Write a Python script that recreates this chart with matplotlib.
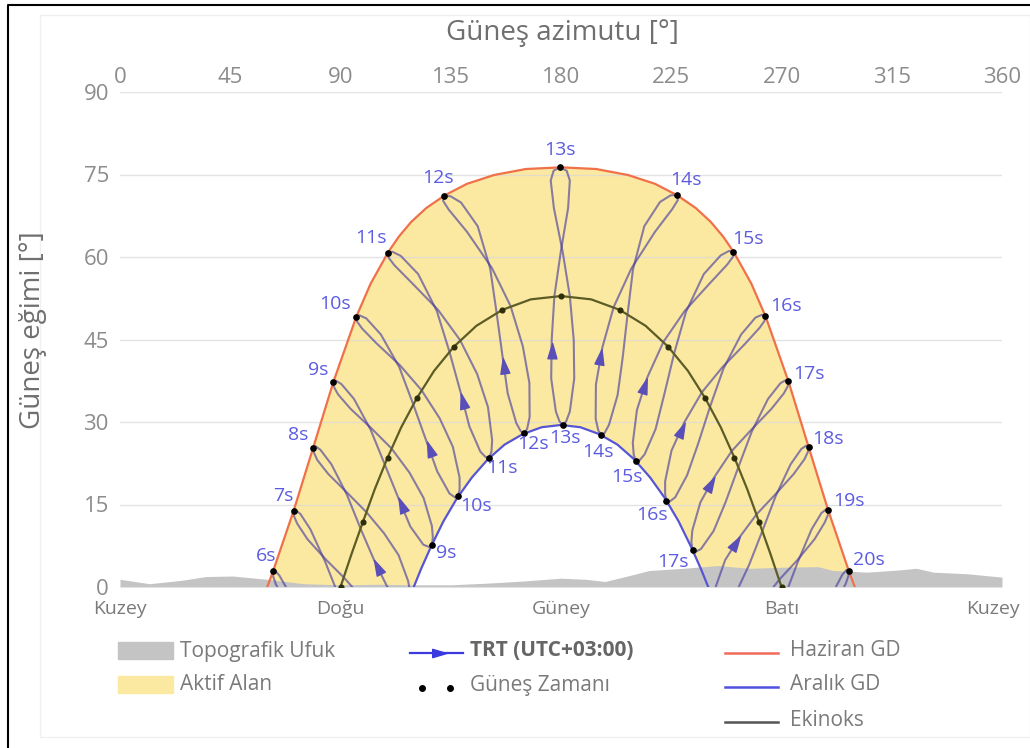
import numpy as np
import matplotlib
matplotlib.use('Agg')
import matplotlib.pyplot as plt
from matplotlib.lines import Line2D
from matplotlib.patches import Rectangle
from matplotlib.markers import MarkerStyle
from matplotlib.path import Path
from matplotlib.transforms import Affine2D

plt.rcParams['font.family'] = ['Open Sans', 'DejaVu Sans']

# --- data (azimuth / elevation in degrees) ---
# June solstice path
june_az = [60.1, 62.5, 70.9, 78.9, 87.1, 96.5, 102.3, 109.5, 113.8, 118.9, 125.0, 132.5, 141.6, 152.6,
           165.7, 180.0, 194.3, 207.4, 218.4, 227.5, 235.0, 241.1, 246.2, 250.5, 257.7, 263.5,
           272.9, 281.1, 289.1, 297.5, 299.9]
june_el = [0.0, 2.9, 13.9, 25.4, 37.3, 49.2, 55.15, 60.9, 63.7, 66.4, 68.9, 71.2, 73.3, 74.9,
           76.0, 76.3, 76.0, 74.9, 73.3, 71.2, 68.9, 66.4, 63.7, 60.9, 55.15, 49.2,
           37.3, 25.4, 13.9, 2.9, 0.0]

# December solstice path
dec_az = [119.9, 122.9, 126.8, 131.95, 137.5, 143.6, 150.1, 157.0, 164.4, 172.1, 180.0,
          187.9, 195.6, 203.0, 209.9, 216.4, 222.5, 228.05, 233.2, 237.1, 240.1]
dec_el = [0.0, 3.3, 7.2, 11.9, 16.1, 19.9, 23.2, 25.9, 27.8, 29.05, 29.46,
          29.05, 27.8, 25.9, 23.2, 19.9, 16.1, 11.9, 7.2, 3.3, 0.0]

# equinox path (every second point is a solar-time hour)
equ_az = [90.0, 94.5, 99.2, 104.0, 109.2, 114.8, 121.1, 128.2, 136.3, 145.5, 156.1, 167.7, 180.0,
          192.3, 203.9, 214.5, 223.7, 231.8, 238.9, 245.2, 250.8, 256.0, 260.8, 265.5, 270.0]
equ_el = [0.0, 6.0, 11.9, 17.8, 23.5, 29.05, 34.3, 39.3, 43.7, 47.5, 50.4, 52.3, 52.9,
          52.3, 50.4, 47.5, 43.7, 39.3, 34.3, 29.05, 23.5, 17.8, 11.9, 6.0, 0.0]

# topographic horizon
hor_az = [0, 6, 12, 25, 35, 46, 60, 75, 90, 105, 120, 135, 150, 165, 180, 190, 198, 209, 216,
          230, 244, 257, 271, 285, 291, 305, 318, 325, 332, 346, 360]
hor_el = [1.4, 1.0, 0.6, 1.2, 1.9, 2.0, 1.4, 0.6, 0.4, 0.5, 0.4, 0.4, 0.7, 1.1, 1.6, 1.4, 1.0, 2.2, 3.0,
          3.4, 3.9, 3.4, 3.6, 3.7, 3.0, 2.7, 3.1, 3.4, 2.7, 2.4, 1.8]

# analemmas (clock hours TRT), June -> December branch and December -> June branch
hours = list(range(6, 21))
down_az = [
    [62.45, 62.5, 63.65, 67.6],
    [70.85, 71.0, 72.3, 76.5, 83.8, 91.3, 98.6],
    [78.85, 79.1, 80.5, 85.1, 92.8, 100.6, 107.8, 113.7, 117.6, 118.5],
    [87.05, 87.3, 88.95, 94.1, 102.5, 110.8, 118.15, 123.9, 127.3, 127.7, 127.3],
    [96.4, 96.7, 98.8, 104.7, 114.3, 123.05, 130.5, 135.85, 138.6, 138.6, 138.0],
    [109.4, 109.6, 112.0, 119.1, 129.8, 138.8, 145.8, 150.2, 151.9, 151.6, 150.7],
    [132.3, 131.9, 134.2, 141.6, 151.8, 159.4, 164.4, 167.1, 167.2, 166.2, 165.1],
    [179.6, 177.0, 175.8, 177.1, 180.7, 183.6, 185.2, 185.4, 183.6, 182.1, 180.7],
    [227.3, 224.7, 220.4, 214.0, 209.4, 207.2, 205.2, 203.1, 199.6, 197.8, 196.3],
    [250.4, 248.6, 245.2, 238.3, 231.0, 226.2, 222.2, 218.6, 214.1, 212.0, 210.5],
    [263.4, 262.1, 259.4, 253.5, 246.3, 240.85, 235.9, 231.45, 226.6, 224.4, 223.0],
    [272.85, 271.7, 269.55, 264.5, 257.9, 252.4, 247.15, 242.3, 237.1, 234.9, 233.7],
    [281.05, 280.1, 278.1, 273.7, 267.6, 262.2, 256.8, 251.7, 246.4],
    [289.05, 288.2, 286.3, 282.3, 276.6, 271.3],
    [297.45, 296.5, 294.85, 291.0],
]
down_el = [
    [2.83, 1.93, 0.45, -2.6],
    [13.8, 12.9, 11.55, 8.7, 5.1, 1.76, -1.9],
    [25.3, 24.5, 23.1, 20.5, 17.1, 13.6, 9.75, 5.8, 1.1, -1.1],
    [37.2, 36.4, 35.05, 32.4, 28.9, 25.2, 20.8, 16.2, 11.1, 9.0, 7.65],
    [49.1, 48.3, 47.0, 44.3, 40.3, 35.8, 30.65, 25.5, 19.9, 17.7, 16.5],
    [60.8, 59.9, 58.5, 55.3, 50.4, 44.9, 38.7, 32.7, 26.7, 24.6, 23.5],
    [71.1, 70.2, 68.6, 64.6, 58.0, 51.1, 43.8, 37.1, 30.9, 28.8, 27.95],
    [76.3, 75.7, 73.9, 68.9, 60.9, 52.9, 44.9, 37.9, 31.9, 30.1, 29.5],
    [71.3, 71.2, 70.0, 65.6, 57.8, 49.7, 41.8, 34.9, 29.5, 28.0, 27.65],
    [61.0, 61.1, 60.3, 56.9, 50.0, 42.5, 35.1, 28.7, 24.1, 23.0, 22.9],
    [49.3, 49.5, 49.0, 45.9, 39.7, 32.8, 25.95, 20.3, 16.3, 15.55, 15.7],
    [37.4, 37.6, 37.05, 34.2, 28.3, 21.8, 15.4, 10.2, 6.9, 6.4, 6.75],
    [25.5, 25.7, 25.1, 22.3, 16.5, 10.2, 4.05, -0.8, -3.7],
    [13.95, 14.1, 13.45, 10.5, 4.5, -1.76],
    [2.97, 3.1, 2.25, -1.0],
]
up_az = [
    [62.45, 63.35, 65.0, 69.0],
    [70.85, 71.7, 73.6, 77.7, 83.6, 89.0],
    [78.85, 79.8, 81.8, 86.3, 92.6, 98.2, 103.8, 109.0, 114.4],
    [87.05, 88.15, 90.35, 95.5, 102.3, 108.05, 113.6, 118.5, 123.8, 126.0, 127.3],
    [96.4, 97.7, 100.5, 106.5, 113.96, 119.7, 125.0, 129.5, 134.5, 136.7, 138.0],
    [109.4, 111.2, 114.6, 121.7, 129.3, 134.45, 138.9, 142.6, 147.1, 149.3, 150.7],
    [132.3, 134.9, 139.2, 146.0, 151.1, 153.7, 156.1, 158.25, 161.75, 163.6, 165.1],
    [179.6, 182.3, 183.6, 182.9, 179.9, 177.3, 176.2, 176.0, 177.9, 179.4, 180.7],
    [227.3, 227.7, 225.4, 218.4, 208.7, 201.5, 196.9, 194.25, 194.15, 195.2, 196.3],
    [250.4, 250.2, 247.8, 240.9, 230.5, 221.85, 215.3, 211.0, 209.3, 209.7, 210.5],
    [263.4, 263.1, 261.1, 255.3, 245.96, 237.5, 230.4, 225.1, 222.5, 222.5, 223.0],
    [272.85, 272.55, 270.95, 265.9, 257.7, 249.65, 242.6, 236.9, 233.6, 233.2, 233.7],
    [281.05, 280.8, 279.4, 274.9, 267.4, 259.8, 252.8, 247.0, 243.2, 242.7],
    [289.05, 288.9, 287.6, 283.5, 276.4, 269.0, 262.0],
    [297.45, 297.35, 296.2, 292.4],
]
up_el = [
    [2.83, 2.93, 2.13, -1.0],
    [13.8, 13.95, 13.3, 10.5, 4.75, -1.3],
    [25.3, 25.6, 24.95, 22.3, 16.8, 10.6, 4.8, 0.1, -2.7],
    [37.2, 37.5, 36.9, 34.2, 28.6, 22.3, 16.2, 11.0, 7.7, 7.3, 7.65],
    [49.1, 49.4, 48.85, 45.9, 40.0, 33.2, 26.6, 21.0, 17.0, 16.3, 16.5],
    [60.8, 60.95, 60.2, 56.9, 50.2, 42.8, 35.6, 29.2, 24.6, 23.6, 23.5],
    [71.1, 71.05, 69.9, 65.6, 57.9, 49.9, 42.05, 35.2, 29.8, 28.3, 27.95],
    [76.3, 75.7, 73.9, 68.9, 60.9, 52.9, 44.9, 37.9, 31.9, 30.1, 29.5],
    [71.3, 70.35, 68.7, 64.6, 57.9, 50.9, 43.6, 36.8, 30.6, 28.5, 27.65],
    [61.0, 60.05, 58.6, 55.3, 50.2, 44.6, 38.2, 32.2, 26.2, 24.0, 22.9],
    [49.3, 48.4, 47.15, 44.3, 40.0, 35.4, 30.0, 24.8, 19.2, 16.9, 15.7],
    [37.4, 36.5, 35.2, 32.4, 28.6, 24.7, 20.0, 15.4, 10.3, 8.1, 6.75],
    [25.5, 24.6, 23.25, 20.5, 16.8, 13.2, 9.0, 4.9, 0.1, -2.1],
    [13.95, 13.05, 11.7, 8.7, 4.85, 1.3, -2.7],
    [2.97, 2.07, 0.57, -2.6],
]
dec_hours = list(range(9, 18))

az_ticks = [0, 45, 90, 135, 180, 225, 270, 315, 360]
el_ticks = [0, 15, 30, 45, 60, 75, 90]
compass = ['Kuzey', 'Doğu', 'Güney', 'Batı', 'Kuzey']

# --- styling ---
yellow = '#fce9a1'
grey = '#c4c4c4'
red = '#f0704a'
blue = '#5656d4'
olive = '#5c5c26'
ana_col = (0.26, 0.22, 0.62, 0.62)
arrow_col = '#5a4fb8'
lab_col = '#5b5be2'
txt = '#7a7a7a'

june_off = [(-7, 15), (-10, 15), (-15, 13), (-15, 12), (-21, 13), (-17, 15), (-6, 18), (0, 17),
            (9, 15), (14, 13), (21, 10), (20, 7), (19, 8), (21, 9), (20, 11)]
dec_off = [(14, -8), (18, -10), (13, -10), (9, -11), (2, -13), (-3, -17), (-9, -16), (-14, -14), (-20, -12)]

W, H = 1030, 748
fig = plt.figure(figsize=(W / 100, H / 100), dpi=100)
ax = fig.add_axes([120 / W, 1 - 587 / H, 882 / W, 495 / H])
ax.set_xlim(0, 360)
ax.set_ylim(0, 90)

# active area and horizon
ax.fill(june_az + dec_az[::-1], june_el + dec_el[::-1], color=yellow, lw=0, zorder=1)
ax.fill_between(hor_az, 0, hor_el, color=grey, lw=0, zorder=1.2)

ax.set_yticks(el_ticks)
ax.set_axisbelow('line')
ax.grid(axis='y', color='#d8d8d8', lw=1, alpha=0.7)
ax.set_xticks([])

for i, h in enumerate(hours):
    ax.plot(down_az[i], down_el[i], color=ana_col, lw=1.5, zorder=3, solid_joinstyle='round')
    ax.plot(up_az[i], up_el[i], color=ana_col, lw=1.5, zorder=3, solid_joinstyle='round')

ax.plot(june_az, june_el, color=red, lw=1.6, zorder=4)
ax.plot(dec_az, dec_el, color=blue, lw=1.6, zorder=4)
ax.plot(equ_az, equ_el, color=olive, lw=1.6, zorder=4)

# hour dots
ax.plot([a[0] for a in down_az], [e[0] for e in down_el], 'o', color='k', ms=3.8, zorder=5)
ax.plot([up_az[hours.index(h)][-1] for h in dec_hours],
        [up_el[hours.index(h)][-1] for h in dec_hours], 'o', color='k', ms=3.8, zorder=5)
ax.plot(equ_az[::2], equ_el[::2], 'o', color='#2e2e0a', ms=3.4, zorder=5)

for i, h in enumerate(hours):
    ax.annotate(f'{h}s', (down_az[i][0], down_el[i][0]), xytext=june_off[i],
                textcoords='offset pixels', ha='center', va='center', color=lab_col,
                fontsize=14, zorder=7)
for j, h in enumerate(dec_hours):
    i = hours.index(h)
    ax.annotate(f'{h}s', (up_az[i][-1], up_el[i][-1]), xytext=dec_off[j],
                textcoords='offset pixels', ha='center', va='center', color=lab_col,
                fontsize=14, zorder=7)

# direction arrows on the Dec -> June branch
tri = Path([(1.0, 0.0), (-0.7, 0.5), (-0.7, -0.5), (1.0, 0.0)],
           [Path.MOVETO, Path.LINETO, Path.LINETO, Path.CLOSEPOLY])
for i, h in enumerate(hours):
    if h < 8 or h > 18:
        continue
    p6 = np.array([up_az[i][6], up_el[i][6]])
    p7 = np.array([up_az[i][7], up_el[i][7]])
    pos = p6 + 0.3 * (p7 - p6)
    d0, d1 = ax.transData.transform([p7, p6])
    ang = np.degrees(np.arctan2(d1[1] - d0[1], d1[0] - d0[0]))
    ax.plot(pos[0], pos[1], marker=MarkerStyle(tri, transform=Affine2D().rotate_deg(ang)),
            ms=13, color=arrow_col, lw=0, zorder=6)

for s in ax.spines.values():
    s.set_visible(False)
ax.tick_params(axis='y', length=0, pad=8, labelsize=16, labelcolor='#8c8c8c')

top = ax.secondary_xaxis('top')
top.set_xticks(az_ticks)
top.tick_params(length=0, pad=3, labelsize=16, labelcolor='#8c8c8c')
for s in top.spines.values():
    s.set_visible(False)

for k, name in enumerate(compass):
    dx = -9 if k == len(compass) - 1 else 0
    ax.annotate(name, (az_ticks[2 * k], 0), xycoords=('data', 'axes fraction'),
                xytext=(dx, -22), textcoords='offset pixels', ha='center', va='center',
                fontsize=14, color=txt)

fig.text(562 / W, 1 - 33 / H, 'Güneş azimutu [°]', ha='center', va='center',
         fontsize=20, color='#6f6f6f')
fig.text(33 / W, 1 - 330 / H, 'Güneş eğimi [°]', ha='center', va='center', rotation=90,
         fontsize=20, color='#6f6f6f')


# --- legend, drawn by hand in pixel positions ---
def fx(x):
    return x / W


def fy(y):
    return 1 - y / H


fig.add_artist(Rectangle((fx(118), fy(659)), 55 / W, 17 / H, color=grey, transform=fig.transFigure))
fig.add_artist(Rectangle((fx(118), fy(693)), 55 / W, 17 / H, color=yellow, transform=fig.transFigure))
fig.text(fx(180), fy(651), 'Topografik Ufuk', va='center', fontsize=15, color=txt)
fig.text(fx(180), fy(685), 'Aktif Alan', va='center', fontsize=15, color=txt)

fig.add_artist(Line2D([fx(410), fx(463)], [fy(653), fy(653)], color='#3a3ae0', lw=1.6,
                      transform=fig.transFigure))
fig.add_artist(Line2D([fx(438)], [fy(653)], color='#3a3ae0', lw=0, marker=MarkerStyle(tri), ms=12,
                      transform=fig.transFigure))
fig.add_artist(Line2D([fx(422), fx(450)], [fy(688), fy(688)], color='k', lw=0, marker='o', ms=4,
                      transform=fig.transFigure))
fig.text(fx(470), fy(651), 'TRT (UTC+03:00)', va='center', fontsize=15, color='#666666',
         fontweight='bold')
fig.text(fx(470), fy(685), 'Güneş Zamanı', va='center', fontsize=15, color=txt)

for y, c, name in [(653, '#f06a5a', 'Haziran GD'), (687, '#5050e0', 'Aralık GD'), (722, '#555555', 'Ekinoks')]:
    fig.add_artist(Line2D([fx(725), fx(778)], [fy(y), fy(y)], color=c, lw=1.8, transform=fig.transFigure))
    fig.text(fx(790), fy(y - 2), name, va='center', fontsize=15, color=txt)

# frame of the screenshot
fig.add_artist(Rectangle((fx(40), fy(737)), (W - 40) / W, 722 / H, fill=False, ec='#f0f0f0', lw=1,
                         transform=fig.transFigure))
fig.add_artist(Line2D([fx(8), fx(8), 1], [0, fy(5), fy(5)], color='k', lw=1.5, transform=fig.transFigure))

fig.savefig('out.png', dpi=100)
